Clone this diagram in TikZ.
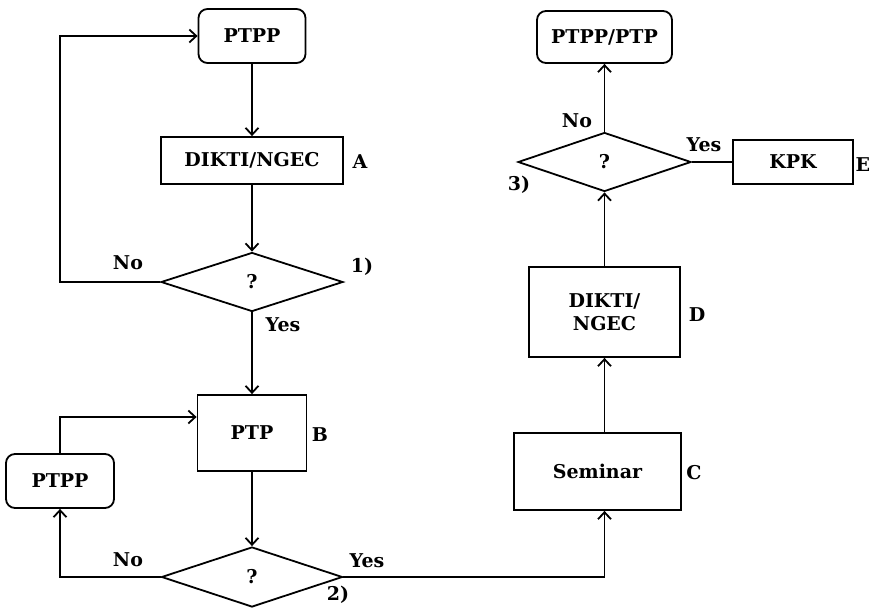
\documentclass[tikz,border=0pt]{standalone}
\usepackage{fontspec}
\setmainfont{DejaVu Serif}
\usetikzlibrary{shapes.geometric,arrows.meta}
\begin{document}
\begin{tikzpicture}[x=1pt,y=-1pt,
  font=\fontsize{19}{23}\selectfont\bfseries,
  line width=1.8pt,
  box/.style={draw,rectangle,inner sep=0pt,align=center},
  rbox/.style={draw,rectangle,rounded corners=9pt,inner sep=0pt},
  dec/.style={draw,diamond,inner sep=0pt},
  lbl/.style={inner sep=0pt},
  arr/.style={-{Straight Barb[length=7pt,width=13pt]}}]
\useasboundingbox (0,0) rectangle (873,611);
% nodes
\node[rbox,minimum width=107pt,minimum height=54pt] (ptpp1) at (252,36) {PTPP};
\node[box,minimum width=182pt,minimum height=47pt] (dikA) at (252,160.5) {DIKTI/NGEC};
\node[dec,minimum width=182pt,minimum height=59pt] (dec1) at (252,282) {?};
\node[box,minimum width=109pt,minimum height=76pt] (ptpB) at (252,433) {PTP};
\node[rbox,minimum width=108pt,minimum height=54pt] (ptpp2) at (60,481) {PTPP};
\node[dec,minimum width=181pt,minimum height=60pt] (dec2) at (252,577) {?};
\node[box,minimum width=167pt,minimum height=77pt] (sem) at (597.5,471.5) {Seminar};
\node[box,minimum width=151pt,minimum height=90pt] (dikD) at (604.5,312) {DIKTI/\\NGEC};
\node[dec,minimum width=173pt,minimum height=59pt] (dec3) at (604.5,162) {?};
\node[rbox,minimum width=135pt,minimum height=52pt] (top2) at (604.5,37) {PTPP/PTP};
\node[box,minimum width=120pt,minimum height=44pt] (kpk) at (793,162) {KPK};
% side labels
\node[lbl] (lA) at (360,162) {A};
\node[lbl] (lB) at (320,435) {B};
\node[lbl] (lC) at (694,473) {C};
\node[lbl] (lD) at (697,315) {D};
\node[lbl,anchor=east] (lE) at (871,165) {E};
\node[lbl] (n1) at (362,267) {1)};
\node[lbl] (n2) at (338,595) {2)};
\node[lbl] (n3) at (519,185) {3)};
\node[lbl] (no1) at (128,263) {No};
\node[lbl] (yes1) at (283,325) {Yes};
\node[lbl] (no2) at (128,560) {No};
\node[lbl] (yes2) at (367,561) {Yes};
\node[lbl] (no3) at (577,121) {No};
\node[lbl] (yes3) at (704,145) {Yes};
% connectors
\draw[arr] (ptpp1.south) -- (dikA.north);
\draw[arr] (dikA.south) -- (dec1.north);
\draw[arr] (dec1.west) -| (ptpp2.north |- dec1.west) -- (ptpp2.north |- ptpp1.west) -- (ptpp1.west);
\draw[arr] (dec1.south) -- (ptpB.north);
\draw[arr] (ptpp2.north) |- ([yshift=16pt]ptpB.west);
\draw[arr] (ptpB.south) -- (dec2.north);
\draw[arr] (dec2.west) -| (ptpp2.south);
\draw[arr] (dec2.east) -| (dikD.south |- sem.south);
\draw[arr] (dikD.south |- sem.north) -- (dikD.south);
\draw[arr] (dikD.north) -- (dec3.south);
\draw[arr] (dec3.north) -- (top2.south);
\draw (dec3.east) -- (kpk.west);
\end{tikzpicture}
\end{document}
